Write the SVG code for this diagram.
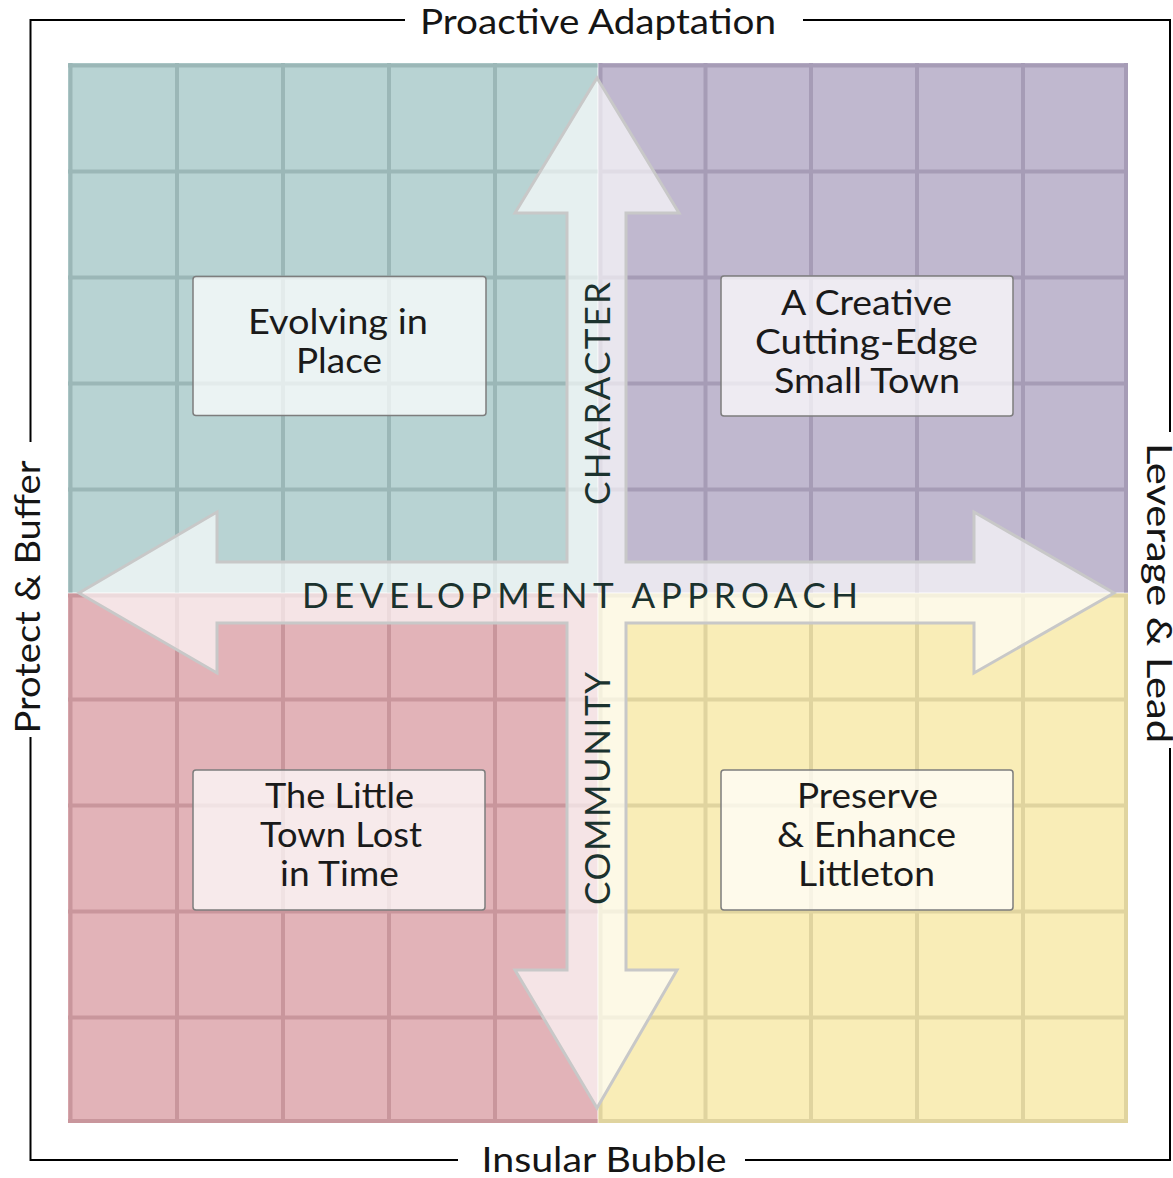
<svg xmlns="http://www.w3.org/2000/svg" width="1173" height="1178" viewBox="0 0 1173 1178">
  <style>
    .frame { stroke: #000; stroke-width: 2; fill: none; }
    .axis { font-family: Lato, "Liberation Sans", sans-serif; font-weight: 400; font-size: 34px; fill: #151515; }
    .lbl { font-family: Lato, "Liberation Sans", sans-serif; font-weight: 400; font-size: 35px; fill: #1b322e; }
    .box { stroke: #7d7d7d; stroke-width: 1.5; fill: #ffffff; fill-opacity: 0.72; }
    .boxtxt { font-family: Lato, "Liberation Sans", sans-serif; font-weight: 400; font-size: 35px; fill: #1a1a1a; text-anchor: middle; }
    .grid { fill: none; stroke-width: 4; }
  </style>
  <rect width="1173" height="1178" fill="#ffffff"/>

  <g id="frame">
    <path class="frame" d="M405 20 H30.5 V442 M30.5 737 V1160 H458 M745 1160 H1170 V748 M1170 432 V20 H803"/>
    <text class="axis" x="598" y="34" text-anchor="middle" textLength="356" lengthAdjust="spacingAndGlyphs">Proactive Adaptation</text>
    <text class="axis" x="604" y="1172" text-anchor="middle" textLength="245" lengthAdjust="spacingAndGlyphs">Insular Bubble</text>
    <text class="axis" transform="translate(40 597) rotate(-90)" x="0" y="0" text-anchor="middle" textLength="273" lengthAdjust="spacingAndGlyphs">Protect &amp; Buffer</text>
    <text class="axis" transform="translate(1147 593) rotate(90)" x="0" y="0" text-anchor="middle" textLength="300" lengthAdjust="spacingAndGlyphs">Leverage &amp; Lead</text>
  </g>

  <g id="quadrant-tl">
    <rect x="68" y="63" width="529.5" height="529.5" fill="#b8d3d3"/>
    <path class="grid" stroke="#9bb7b7" d="M70.5 63 V592.5 M177 63 V592.5 M283 63 V592.5 M389 63 V592.5 M495 63 V592.5 M68 65.5 H597.5 M68 171.5 H597.5 M68 277.5 H597.5 M68 383.5 H597.5 M68 489.5 H597.5"/>
  </g>
  <g id="quadrant-tr">
    <rect x="598.5" y="63" width="529.5" height="529.5" fill="#c0b8cf"/>
    <path class="grid" stroke="#a69cb6" d="M600.5 63 V592.5 M705.5 63 V592.5 M811 63 V592.5 M917 63 V592.5 M1023 63 V592.5 M1126 63 V592.5 M598.5 65.5 H1128 M598.5 171.5 H1128 M598.5 277.5 H1128 M598.5 383.5 H1128 M598.5 489.5 H1128"/>
  </g>
  <g id="quadrant-bl">
    <rect x="68" y="593.5" width="529.5" height="529.5" fill="#e2b3b8"/>
    <path class="grid" stroke="#c9969c" d="M70.5 593.5 V1123 M177 593.5 V1123 M283 593.5 V1123 M389 593.5 V1123 M495 593.5 V1123 M68 595.5 H597.5 M68 699.5 H597.5 M68 805.5 H597.5 M68 911.5 H597.5 M68 1017.5 H597.5 M68 1121 H597.5"/>
  </g>
  <g id="quadrant-br">
    <rect x="598.5" y="593.5" width="529.5" height="529.5" fill="#f9edb7"/>
    <path class="grid" stroke="#e0d49f" d="M600.5 593.5 V1123 M705.5 593.5 V1123 M811 593.5 V1123 M917 593.5 V1123 M1023 593.5 V1123 M1126 593.5 V1123 M598.5 595.5 H1128 M598.5 699.5 H1128 M598.5 805.5 H1128 M598.5 911.5 H1128 M598.5 1017.5 H1128 M598.5 1121 H1128"/>
  </g>

  <g id="connectors">
    <polygon points="597,78 679,213 626,213 626,562 974,562 974,512 1114,593 974,673 974,623 626,623 626,970 677,970 597,1108 515,970 567,970 567,623 217,623 217,673 79,593 217,512 217,562 567,562 567,213 515,213" fill="#ffffff" fill-opacity="0.65" stroke="#c8c8c8" stroke-width="3" stroke-linejoin="miter"/>
    <text class="lbl" x="580" y="608" text-anchor="middle" textLength="556" lengthAdjust="spacing">DEVELOPMENT APPROACH</text>
    <text class="lbl" transform="translate(610 393.5) rotate(-90)" x="0" y="0" text-anchor="middle" textLength="223" lengthAdjust="spacing">CHARACTER</text>
    <text class="lbl" transform="translate(610 788.5) rotate(-90)" x="0" y="0" text-anchor="middle" textLength="233" lengthAdjust="spacing">COMMUNITY</text>
  </g>

  <g id="node-evolving">
    <rect class="box" x="193" y="276.5" width="293" height="139" rx="3"/>
    <text class="boxtxt" x="338" y="334" textLength="180" lengthAdjust="spacingAndGlyphs">Evolving in</text>
    <text class="boxtxt" x="339" y="373" textLength="86" lengthAdjust="spacingAndGlyphs">Place</text>
  </g>
  <g id="node-creative">
    <rect class="box" x="721" y="276" width="292" height="140" rx="3"/>
    <text class="boxtxt" x="866.5" y="315" textLength="171" lengthAdjust="spacingAndGlyphs">A Creative</text>
    <text class="boxtxt" x="866.5" y="354" textLength="223" lengthAdjust="spacingAndGlyphs">Cutting-Edge</text>
    <text class="boxtxt" x="867" y="393" textLength="186" lengthAdjust="spacingAndGlyphs">Small Town</text>
  </g>
  <g id="node-little-town">
    <rect class="box" x="193" y="770" width="292" height="140" rx="3"/>
    <text class="boxtxt" x="339.5" y="808" textLength="149" lengthAdjust="spacingAndGlyphs">The Little</text>
    <text class="boxtxt" x="341" y="847" textLength="162" lengthAdjust="spacingAndGlyphs">Town Lost</text>
    <text class="boxtxt" x="339.5" y="886" textLength="119" lengthAdjust="spacingAndGlyphs">in Time</text>
  </g>
  <g id="node-preserve">
    <rect class="box" x="721" y="770" width="292" height="140" rx="3"/>
    <text class="boxtxt" x="867.5" y="808" textLength="141" lengthAdjust="spacingAndGlyphs">Preserve</text>
    <text class="boxtxt" x="866.5" y="847" textLength="179" lengthAdjust="spacingAndGlyphs">&amp; Enhance</text>
    <text class="boxtxt" x="866.5" y="886" textLength="137" lengthAdjust="spacingAndGlyphs">Littleton</text>
  </g>
</svg>
